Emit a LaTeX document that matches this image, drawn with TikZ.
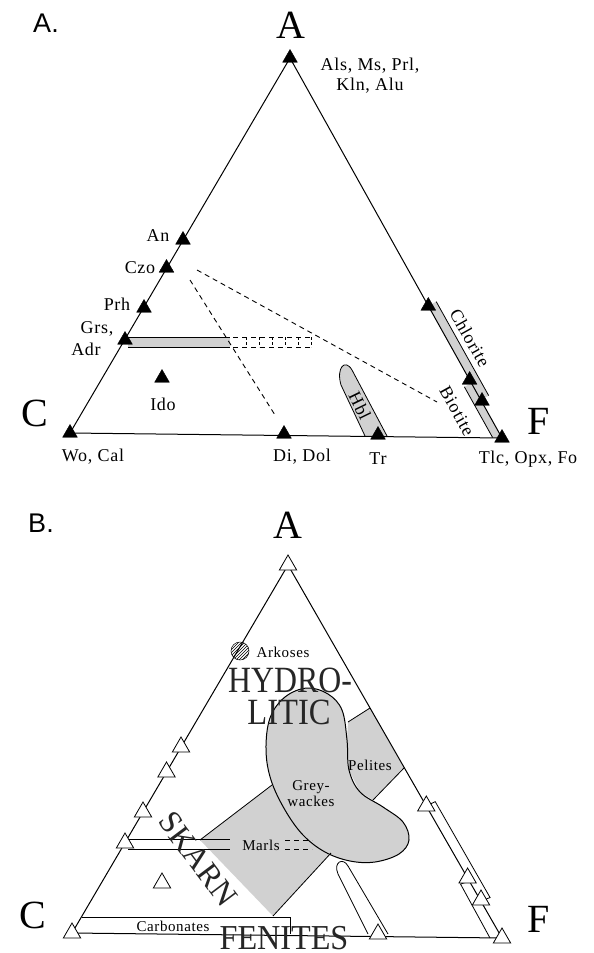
\documentclass[tikz,border=0pt]{standalone}
\usepackage{fontspec}
\setmainfont{Liberation Serif}
\newfontfamily\labf[LetterSpace=4]{Liberation Serif}
\newfontfamily\sansf{Liberation Sans}
\usetikzlibrary{shapes.geometric,patterns}
\begin{document}
\begin{tikzpicture}[x=1pt,y=-1pt,
 bt/.style={regular polygon,regular polygon sides=3,fill=black,draw=black,inner sep=0pt,minimum size=17pt},
 wt/.style={regular polygon,regular polygon sides=3,fill=white,draw=black,line width=0.8pt,inner sep=0pt,minimum size=20pt},
 rim/.style={line width=1pt},
 lab/.style={font=\labf\fontsize{18}{20}\selectfont,inner sep=1pt},
 slab/.style={font=\labf\fontsize{15}{16}\selectfont,inner sep=1pt},
 bigl/.style={font=\fontsize{40}{40}\selectfont,inner sep=0pt},
 panel/.style={font=\sansf\fontsize{27}{27}\selectfont,inner sep=0pt},
 bigtxt/.style={font=\fontsize{37}{37}\selectfont,text=black!85,inner sep=0pt},
 dsh/.style={dash pattern=on 5pt off 4pt,line width=0.9pt},
 shade/.style={fill=black!18},
 thin line/.style={line width=0.8pt},
]
\useasboundingbox (0,0) rectangle (594,953);
\fill[white] (0,0) rectangle (594,953);

%%%%%%%%%%%%%%%% Panel A
\node[panel] (pA) at (46,23) {A.};
\node[bigl] (lA) at (291,25) {A};
\node[bigl] (lC) at (35,413) {C};
\node[bigl] (lF) at (539,421) {F};

\coordinate (aA) at (290,58);
\coordinate (aC) at (70,433);
\coordinate (aF) at (502,438);

% shaded bands
\fill[shade] (428.3,306) -- (436.2,301.6) -- (488.7,395.6) -- (480.8,400) -- cycle;
\fill[shade] (471.4,383) -- (464.4,386.9) -- (492.6,437.5) -- (501.9,437.8) -- cycle;
\fill[shade] (128,337) rectangle (230,347);
% Hbl
\filldraw[shade,draw=black,thin line] (365,436) -- (341,385) .. controls (336,368) and (345,358) .. (352,370) -- (387,436);

\draw[rim] (aA) -- (aC) -- (aF) -- cycle;
\draw[thin line] (436.2,301.6) -- (488.7,395.6);
\draw[thin line] (464.4,386.9) -- (492.6,437.5);
\draw[thin line] (128,337) -- (230,337) (128,347) -- (230,347);
\draw[dsh] (233,337) -- (313,337) (233,347) -- (313,347);
\foreach \x in {246,259,272,285,298,311} \draw[line width=0.8pt,dash pattern=on 3pt off 2pt] (\x,337) -- (\x,347);

% dashed tie lines
\coordinate (d1a) at (197,270); \coordinate (d1b) at (437,402);
\coordinate (d2a) at (190,280); \coordinate (d2b) at (275,415);
\draw[dsh] (d1a) -- (d1b);
\draw[dsh] (d2a) -- (d2b);

% markers
\node[bt] (mA) at (aA) {};
\node[bt] (mAn) at (183,240) {};
\node[bt] (mCzo) at (166.5,268) {};
\node[bt] (mPrh) at (144,308) {};
\node[bt] (mGrs) at (125,340) {};
\node[bt] (mIdo) at (162,378) {};
\node[bt] (mC) at (aC) {};
\node[bt] (mDi) at (284,434) {};
\node[bt] (mTr) at (378,435) {};
\node[bt] (mF) at (aF) {};
\node[bt] (mR1) at (428.3,306) {};
\node[bt] (mR2) at (469.6,380) {};
\node[bt] (mR3) at (482,401) {};

% labels
\node[lab,align=center] (tAls) at (370,76) {Als, Ms, Prl,\\Kln, Alu};
\node[lab] (tAn) at (158,236) {An};
\node[lab] (tCzo) at (140,268) {Czo};
\node[lab] (tPrh) at (117,304) {Prh};
\node[lab] (tGrs) at (97,329) {Grs,};
\node[lab] (tAdr) at (86,349) {Adr};
\node[lab] (tIdo) at (163,404) {Ido};
\node[lab] (tWo) at (93,457) {Wo, Cal};
\node[lab] (tDi) at (302,457) {Di, Dol};
\node[lab] (tTr) at (378,459) {Tr};
\node[lab] (tTlc) at (528,459) {Tlc, Opx, Fo};
\node[lab,rotate=-60.8] (tChl) at (470,338) {Chlorite};
\node[lab,rotate=-60.8] (tBio) at (457,411) {Biotite};
\node[lab,rotate=-64] (tHbl) at (360,406) {Hbl};

%%%%%%%%%%%%%%%% Panel B
\node[panel] (pB) at (41,523) {B.};
\node[bigl] (lA2) at (288,525) {A};
\node[bigl] (lC2) at (33,915) {C};
\node[bigl] (lF2) at (539,919) {F};

\coordinate (bA) at (288,565);
\coordinate (bC) at (72,933);
\coordinate (bF) at (502,938);

% grey regions
\fill[shade] (200,840) -- (272,785) -- (285,810) -- (303,835) -- (331,853) -- (273,916) -- cycle;
\fill[shade] (348,722) -- (370,708) -- (404,768) -- (373,800) -- (360,792) -- (349,770) -- (347,740) -- cycle;
\filldraw[shade,draw=black,line width=1pt] plot[smooth cycle,tension=0.6] coordinates {(307,688) (328,694) (342,710) (347,740) (349,770) (360,792) (383,807) (403,822) (409,840) (399,854) (375,862) (350,861) (325,852) (303,835) (285,810) (271,780) (266,750) (270,718) (285,697)};
\draw[thin line] (200,840) -- (272,785);
\draw[thin line] (331,853) -- (273,916);
\draw[thin line] (348,722) -- (370,708);
\draw[thin line] (373,800) -- (404,768);

% outlined bands
\draw[thin line] (426.3,806) -- (435.2,801.6) -- (490.1,897.6) -- (480.2,901);
\draw[thin line] (470.5,881) -- (460.5,884) -- (490,938);
\draw[thin line] (368,934) -- (338,874) .. controls (333,862) and (343,857) .. (348,866) -- (388,934);
\draw[thin line] (128,839) -- (230,839) (128,849) -- (230,849);
\draw[dsh] (285,840) -- (312,840) (285,849) -- (312,849);
\draw[thin line] (82,917) -- (290,917) -- (290,934);

% Arkoses circle
\fill[white] (240,651) circle (9);
\fill[pattern=north east lines] (240,651) circle (9);
\draw[line width=0.5pt] (240,651) circle (9);

\draw[rim] (bA) -- (bC) -- (bF) -- cycle;

% markers
\node[wt] (nA) at (bA) {};
\node[wt] (nL1) at (181,747) {};
\node[wt] (nL2) at (166.5,772) {};
\node[wt] (nL3) at (143,812) {};
\node[wt] (nL4) at (125,843) {};
\node[wt] (nIdo) at (162,883) {};
\node[wt] (nC) at (bC) {};
\node[wt] (nTr) at (378,934) {};
\node[wt] (nF) at (bF) {};
\node[wt] (nR1) at (426.3,806) {};
\node[wt] (nR2) at (467.6,878) {};
\node[wt] (nR3) at (481,900) {};

% labels
\node[slab] (tArk) at (283,652) {Arkoses};
\node[slab] (tPel) at (370,765) {Pelites};
\node[slab,align=center] (tGre) at (311,794) {Grey-\\wackes};
\node[slab] (tMar) at (261,845) {Marls};
\node[slab] (tCar) at (173,926) {Carbonates};

\node[bigtxt] (tHyd) at (290,680) {\scalebox{0.86}[1]{HYDRO-}};
\node[bigtxt] (tLit) at (289,712) {\scalebox{0.88}[1]{LITIC}};
\node[bigtxt,font=\fontsize{32}{32}\selectfont,rotate=-53] (tSka) at (198,859) {SKARN};
\node[bigtxt,font=\fontsize{35}{35}\selectfont] (tFen) at (284,938) {\scalebox{0.92}[1]{FENITES}};
\end{tikzpicture}
\end{document}
